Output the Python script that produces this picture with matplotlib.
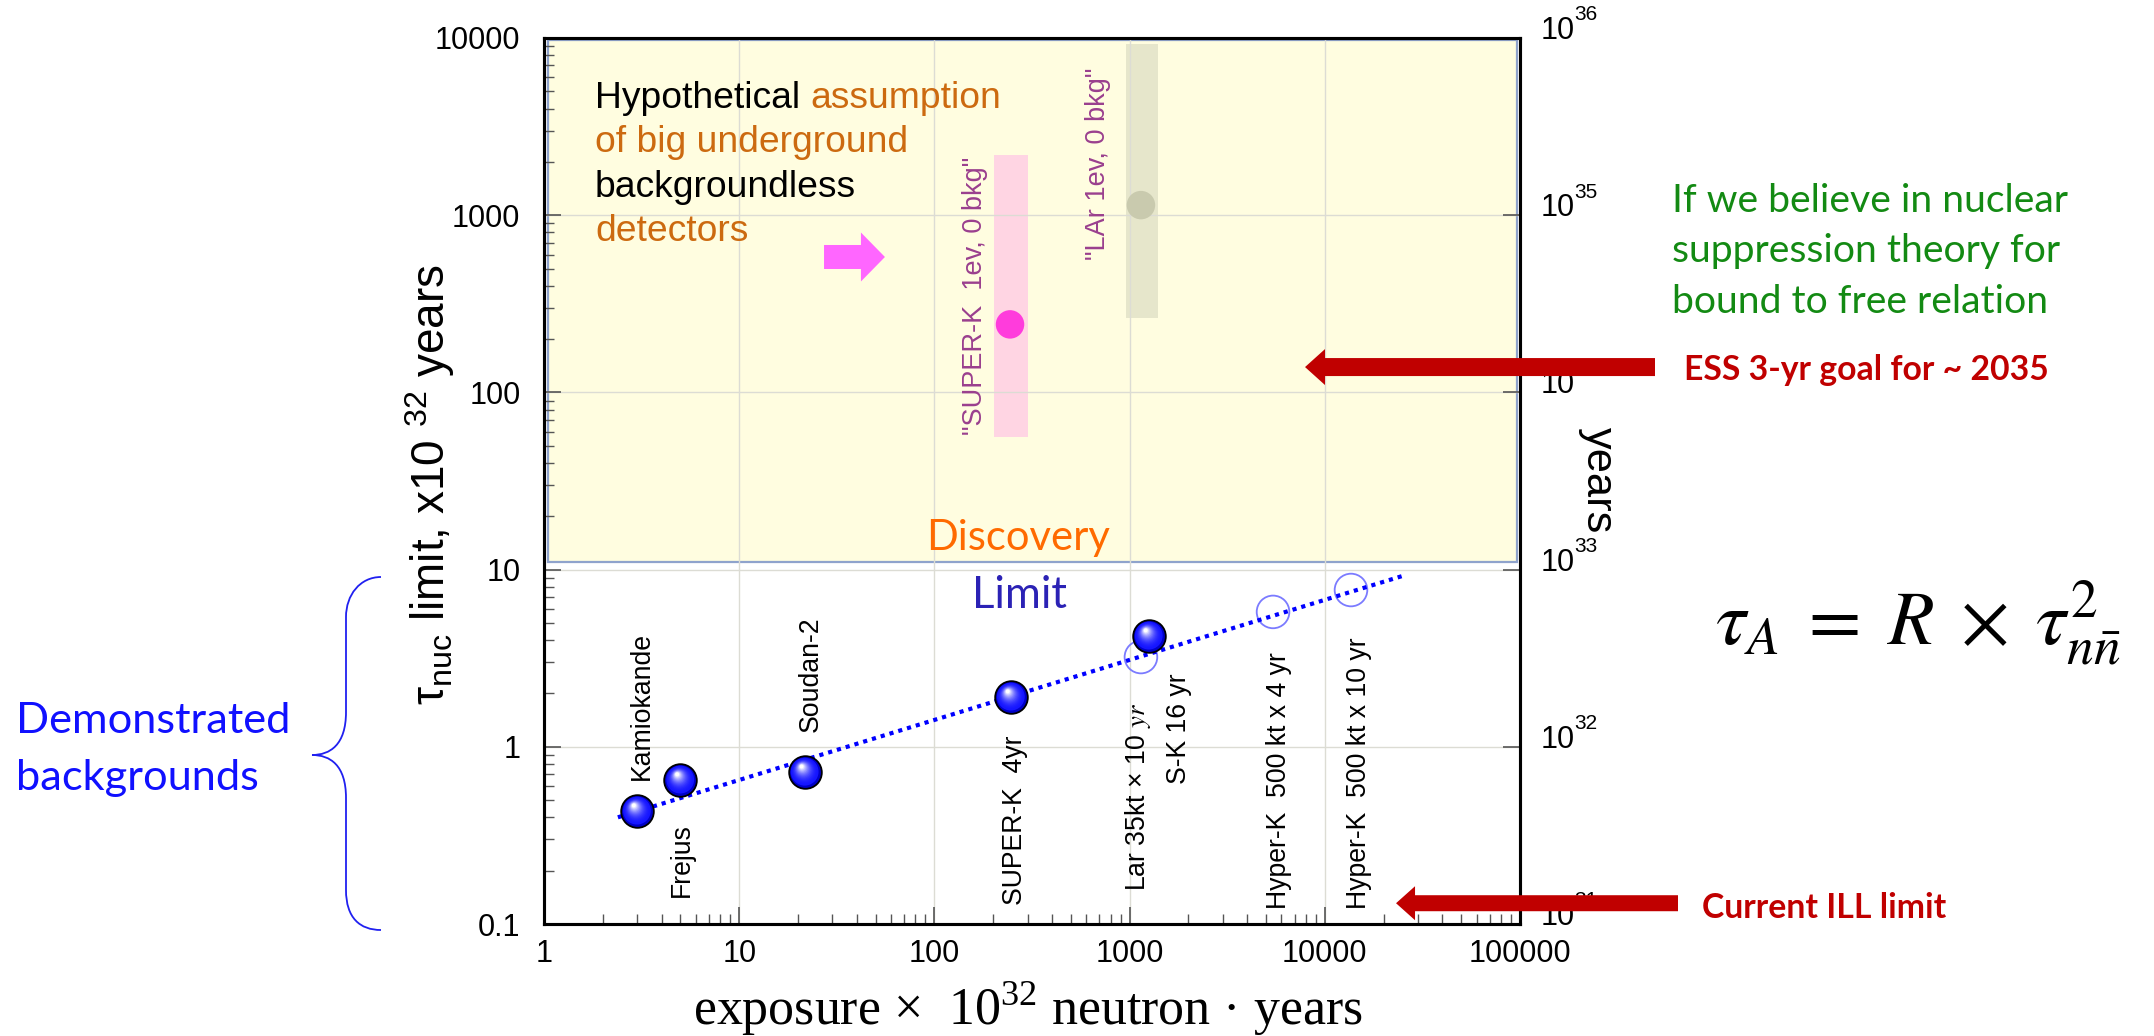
import numpy as np
import matplotlib
matplotlib.use("Agg")
import matplotlib.pyplot as plt
from matplotlib import transforms
from matplotlib.patches import Polygon, PathPatch, Rectangle
from matplotlib.path import Path
from matplotlib.colors import to_rgb
from matplotlib.ticker import FixedLocator, FixedFormatter, NullLocator, NullFormatter

W, H, DPI = 2154, 1036, 100

# ---------------- data ----------------
x_ticks = [1, 10, 100, 1000, 10000, 100000]
x_tick_labels = ['1', '10', '100', '1000', '10000', '100000']
y_ticks = [0.1, 1, 10, 100, 1000, 10000]
y_tick_labels = ['0.1', '1', '10', '100', '1000', '10000']
right_ticks = [1e31, 1e32, 1e33, 1e34, 1e35, 1e36]
right_exponents = ['31', '32', '33', '34', '35', '36']

exp_names = ['Kamiokande', 'Frejus', 'Soudan-2', 'SUPER-K  4yr', 'S-K 16 yr']
exp_x = [3.0, 5.0, 21.7, 247, 1257]
exp_y = [0.434, 0.65, 0.72, 1.91, 4.22]
exp_label_x = [3.18, 5.09, 23.3, 259, 1791]
exp_label_y = [0.65, 0.142, 1.21, 0.128, 0.62]

proj_names = ['Lar 35kt × 10 $\\mathit{yr}$', 'Hyper-K  500 kt x 4 yr', 'Hyper-K  500 kt x 10 yr']
proj_x = [1143, 5430, 13620]
proj_y = [3.21, 5.77, 7.67]
proj_label_x = [1104, 5820, 14970]
proj_label_y = [0.153, 0.122, 0.122]

trend_x = [2.39, 25760]
trend_y = [0.40, 9.3]

bgfree_names = ['"SUPER-K  1ev, 0 bkg"', '"LAr 1ev, 0 bkg"']
bgfree_x = [244, 1143]
bgfree_y = [242, 1140]
bgfree_xmin = [202, 957]
bgfree_xmax = [302, 1400]
bgfree_ymin = [55.7, 263]
bgfree_ymax = [2183, 9250]
bgfree_label_x = [161, 689]
bgfree_label_y = [57.5, 559]
bgfree_bar_colors = ['#FFD5E3', '#E6E6CB']
bgfree_dot_colors = ['#FF3CDC', '#C9CAAE']

discovery_floor = 11.1
discovery_ceiling = 9700

pointer_tail = (27.2, 581)
pointer_tip = (55.8, 581)
ess_goal = (7920, 139)
ill_limit = (23170, 0.131)

# ---------------- style ----------------
plt.rcParams['font.family'] = ['Liberation Sans', 'DejaVu Sans']
plt.rcParams['mathtext.fontset'] = 'custom'
plt.rcParams['mathtext.rm'] = 'Liberation Sans'
plt.rcParams['mathtext.it'] = 'Liberation Sans:italic'
plt.rcParams['mathtext.bf'] = 'Liberation Sans:bold'

fig = plt.figure(figsize=(W / DPI, H / DPI), dpi=DPI)
fig.patch.set_facecolor('white')


def fx(px):
    return px / W


def fy(py):
    return 1 - py / H


AX_L, AX_R, AX_T, AX_B = 544, 1520, 38, 924
ax = fig.add_axes([fx(AX_L), fy(AX_B), (AX_R - AX_L) / W, (AX_B - AX_T) / H])
ax.set_xscale('log')
ax.set_yscale('log')
ax.set_xlim(x_ticks[0], x_ticks[-1])
ax.set_ylim(y_ticks[0], y_ticks[-1])

ax.xaxis.set_major_locator(FixedLocator(x_ticks))
ax.xaxis.set_major_formatter(FixedFormatter(x_tick_labels))
ax.yaxis.set_major_locator(FixedLocator(y_ticks))
ax.yaxis.set_major_formatter(FixedFormatter(y_tick_labels))
ax.xaxis.set_minor_formatter(NullFormatter())
ax.yaxis.set_minor_formatter(NullFormatter())
ax.tick_params(which='both', direction='in', top=False, right=False, color='#555555')
ax.tick_params(which='major', length=12, width=1.2, labelsize=22)
ax.tick_params(axis='x', which='major', pad=11)
ax.tick_params(axis='y', which='major', pad=17)
ax.tick_params(which='minor', length=7, width=1.0)
ax.grid(True, which='major', color='#dcdcd4', lw=1.0)
for s in ax.spines.values():
    s.set_linewidth(2.2)
    s.set_color('black')

# yellow discovery region
btrans = transforms.blended_transform_factory(ax.transAxes, ax.transData)
ax.add_patch(Rectangle((0.004, discovery_floor), 0.993, discovery_ceiling - discovery_floor,
                       transform=btrans, facecolor='#FFFDE0', edgecolor='#8FA3CC', lw=1.6, zorder=0.2))

# right axis
ax2 = ax.twinx()
ax2.set_yscale('log')
ax2.set_ylim(right_ticks[0], right_ticks[-1])
ax2.yaxis.set_major_locator(FixedLocator(right_ticks))
ax2.yaxis.set_major_formatter(NullFormatter())
ax2.yaxis.set_minor_locator(NullLocator())
ax2.tick_params(which='major', direction='in', length=12, width=1.2, color='#555555')
for s in ax2.spines.values():
    s.set_linewidth(2.2)
rtrans = transforms.blended_transform_factory(ax2.transAxes, ax2.transData)
for v, e in zip(right_ticks, right_exponents):
    tb = transforms.offset_copy(rtrans, fig=fig, x=21, y=7, units='dots')
    ax2.text(1, v, '10', transform=tb, ha='left', va='center', fontsize=22, clip_on=False)
    te = transforms.offset_copy(rtrans, fig=fig, x=54, y=23, units='dots')
    ax2.text(1, v, e, transform=te, ha='left', va='center', fontsize=15, clip_on=False)

# background-free projections
for i in range(len(bgfree_names)):
    ax.add_patch(Rectangle((bgfree_xmin[i], bgfree_ymin[i]), bgfree_xmax[i] - bgfree_xmin[i],
                           bgfree_ymax[i] - bgfree_ymin[i], facecolor=bgfree_bar_colors[i],
                           edgecolor='none', zorder=1))
    ax.scatter([bgfree_x[i]], [bgfree_y[i]], s=20.5 ** 2, c=bgfree_dot_colors[i], edgecolors='none', zorder=2)
bg_labels = []
for name, x, y in zip(bgfree_names, bgfree_label_x, bgfree_label_y):
    bg_labels.append(ax.text(x, y, name, rotation=90, ha='center', va='bottom', fontsize=19,
                             color='#9A3F8E', zorder=3))

# trend and projections
ax.scatter(proj_x, proj_y, s=23.5 ** 2, facecolors='none', edgecolors='#7B7BFF', linewidths=1.3, zorder=3)
ax.plot(trend_x, trend_y, color='#0000FF', lw=3.0, ls=(0, (1, 1.2)), dash_capstyle='butt', zorder=4)


def spheres(xs, ys, d=23.5, z=5):
    ax.scatter(xs, ys, s=d ** 2, c='#0000C8', edgecolors='black', linewidths=1.3, zorder=z)
    n = 16
    base = np.array(to_rgb('#1414FF'))
    for i in range(1, n + 1):
        f = i / n
        w = f ** 2.2
        col = base * (1 - w) + np.ones(3) * w
        size = d * (0.90 - 0.78 * f)
        tr = transforms.offset_copy(ax.transData, fig=fig, x=-0.10 * d * f, y=0.17 * d * f, units='points')
        ax.scatter(xs, ys, s=size ** 2, c=[col], edgecolors='none', transform=tr, zorder=z + 0.01 * i)


spheres(exp_x, exp_y)

pt_labels = []
for name, x, y in zip(exp_names, exp_label_x, exp_label_y):
    pt_labels.append(ax.text(x, y, name, rotation=90, ha='center', va='bottom', fontsize=19, zorder=6))
for name, x, y in zip(proj_names, proj_label_x, proj_label_y):
    pt_labels.append(ax.text(x, y, name, rotation=90, ha='center', va='bottom', fontsize=19, zorder=6,
                             math_fontfamily='stix'))

renderer = fig.canvas.get_renderer()


def fit(t, target, use_height=False):
    bb = t.get_window_extent(renderer)
    cur = bb.height if use_height else bb.width
    t.set_fontsize(t.get_fontsize() * target / cur)
    return t.get_fontsize()


# unify label sizes
sz = fit(pt_labels[-1], 272, use_height=True)
for t in pt_labels:
    t.set_fontsize(sz)
sz2 = fit(bg_labels[0], 278, use_height=True)
for t in bg_labels:
    t.set_fontsize(sz2)


def arrow_px(tail_x, tip, half_body, half_head, head_len, color, z):
    x1, y1 = tip
    x0 = tail_x
    s = np.sign(x1 - x0)
    xb = x1 - s * head_len
    pts = [(x0, y1 - half_body), (xb, y1 - half_body), (xb, y1 - half_head), (x1, y1),
           (xb, y1 + half_head), (xb, y1 + half_body), (x0, y1 + half_body)]
    fig.add_artist(Polygon(np.array(pts) / DPI, closed=True, transform=fig.dpi_scale_trans,
                           facecolor=color, edgecolor='none', zorder=z))


# magenta pointer
p0 = ax.transData.transform(pointer_tail)
p1 = ax.transData.transform(pointer_tip)
arrow_px(p0[0], p1, 12, 24.5, 24, '#FF66FF', 3)

# red arrows
tip = ax.transData.transform(ess_goal)
arrow_px(1655, tip, 9, 18, 20, '#C00000', 10)
tip = ax.transData.transform(ill_limit)
arrow_px(1678, tip, 8, 17, 19, '#C00000', 10)

# ---------------- texts ----------------
SANS2 = ['Lato', 'DejaVu Sans']

# hypothetical
hyp_color = '#CC6A10'
h1a = fig.text(fx(595), fy(108), 'Hypothetical ', fontsize=26, color='black', va='baseline')
h1b = fig.text(fx(595), fy(108), 'assumption', fontsize=26, color=hyp_color, va='baseline')
wa = h1a.get_window_extent(renderer).width
wb = h1b.get_window_extent(renderer).width
hs = 26 * 405 / (wa + wb)
h1a.set_fontsize(hs)
h1b.set_fontsize(hs)
wa = h1a.get_window_extent(renderer).width
h1b.set_x(fx(595 + wa))
fig.text(fx(595), fy(152.5), 'of big underground', fontsize=hs, color=hyp_color, va='baseline')
fig.text(fx(595), fy(197), 'backgroundless', fontsize=hs, color='black', va='baseline')
fig.text(fx(595), fy(241), 'detectors', fontsize=hs, color=hyp_color, va='baseline')

# Discovery / Limit
t = fig.text(fx(1018), fy(550), 'Discovery', family=SANS2, color='#FF6A00', ha='center', va='baseline', fontsize=28)
fit(t, 184)
t = fig.text(fx(1019), fy(608), 'Limit', family=SANS2, color='#2B22B5', ha='center', va='baseline', fontsize=28)
fit(t, 95)

# green note
g = fig.text(fx(1672), fy(212), 'If we believe in nuclear', family=SANS2, color='#138A13', va='baseline', fontsize=28)
gs = fit(g, 396)
fig.text(fx(1672), fy(262), 'suppression theory for', family=SANS2, color='#138A13', va='baseline', fontsize=gs)
fig.text(fx(1672), fy(313), 'bound to free relation', family=SANS2, color='#138A13', va='baseline', fontsize=gs)

t = fig.text(fx(1684), fy(380), 'ESS 3-yr goal for ~ 2035', family=SANS2, weight='bold', color='#C00000',
             va='baseline', fontsize=24)
fit(t, 366)
t = fig.text(fx(1702), fy(918), 'Current ILL limit', family=SANS2, weight='bold', color='#C00000',
             va='baseline', fontsize=24)
fit(t, 244)

# formula
t = fig.text(fx(1715), fy(645), r'$\tau_A\;=\;R\;\times\;\tau_{n\bar{n}}^{2}$', math_fontfamily='stix',
             va='baseline', fontsize=44)
fit(t, 406)

# demonstrated backgrounds
t = fig.text(fx(16), fy(733), 'Demonstrated', family=SANS2, color='#1010FF', va='baseline', fontsize=30)
ds = fit(t, 275)
fig.text(fx(16), fy(790), 'backgrounds', family=SANS2, color='#1010FF', va='baseline', fontsize=ds)

# brace
verts = [(381, 577), (360, 577), (346, 595), (346, 617),
         (346, 712),
         (346, 745), (330, 755), (312, 755),
         (330, 755), (346, 765), (346, 798),
         (346, 890),
         (346, 918), (360, 930), (381, 930)]
codes = [Path.MOVETO, Path.CURVE4, Path.CURVE4, Path.CURVE4,
         Path.LINETO,
         Path.CURVE4, Path.CURVE4, Path.CURVE4,
         Path.CURVE4, Path.CURVE4, Path.CURVE4,
         Path.LINETO,
         Path.CURVE4, Path.CURVE4, Path.CURVE4]
vv = [(fx(x), fy(y)) for x, y in verts]
fig.add_artist(PathPatch(Path(vv, codes), transform=fig.transFigure, facecolor='none',
                         edgecolor='#2020F0', lw=1.3))

# axis labels
t = fig.text(fx(1028), fy(1025), 'exposure ×  10$^{\\mathregular{32}}$ neutron · years', family='Liberation Serif',
             ha='center', va='baseline', fontsize=30)
fit(t, 669)
t = fig.text(fx(430), fy(485), 'τ$_{\\mathregular{nuc}}$ limit, x10 $^{\\mathregular{32}}$ years', rotation=90,
             ha='center', va='center', fontsize=28)
fit(t, 441, use_height=True)
t = fig.text(fx(1598), fy(480), 'years', rotation=270, ha='center', va='center', fontsize=28)
fit(t, 106, use_height=True)

fig.savefig('out.png', dpi=DPI)
